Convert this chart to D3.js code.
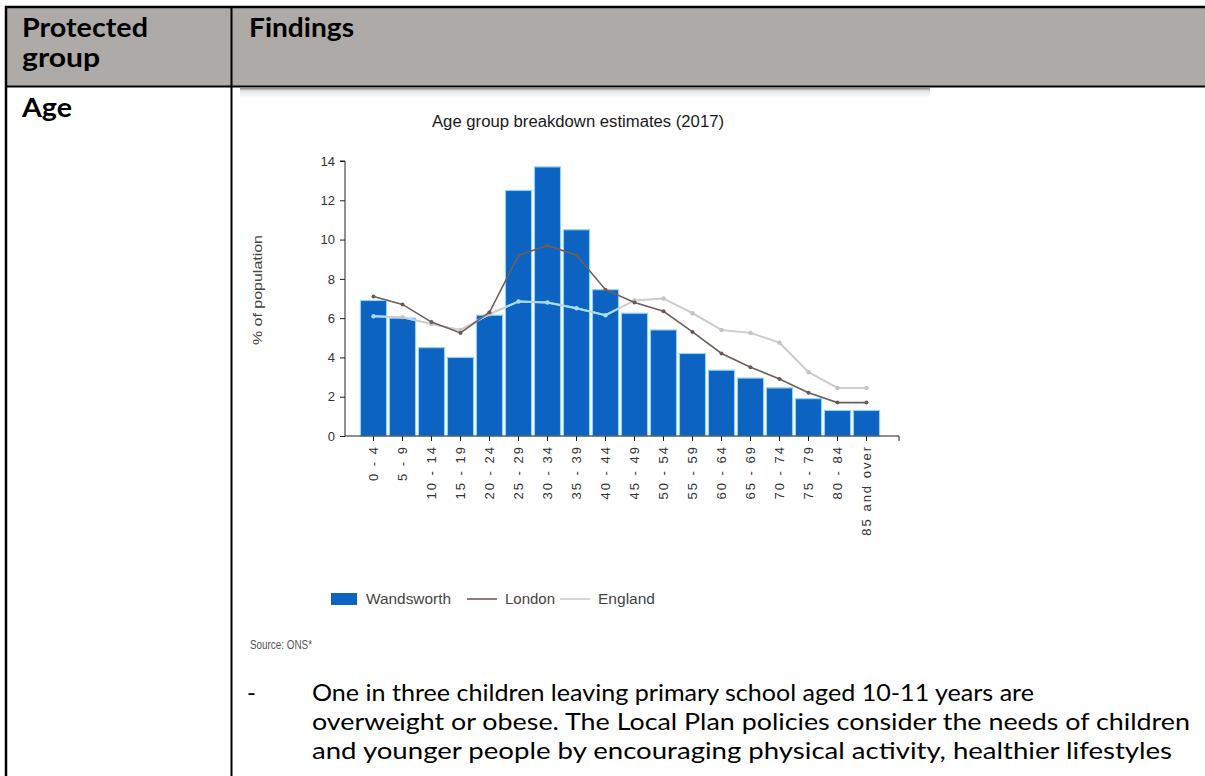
<!DOCTYPE html>
<html lang="en">
<head>
<meta charset="utf-8">
<title>Age group breakdown estimates (2017)</title>
<script src="https://d3js.org/d3.v7.min.js"></script>
<style>
  body { margin: 0; background: #fff; }
  .doc { font-family: Lato, "Open Sans", sans-serif; fill: #000; }
  .chart text { font-family: "Liberation Sans Narrow", "Liberation Sans", Arial, sans-serif; }
  .axis text { fill: #333; font-size: 13px; }
  .axis path, .axis line { stroke: #222; }
</style>
</head>
<body>
<script>
// chart data
var ages = ["0 - 4", "5 - 9", "10 - 14", "15 - 19", "20 - 24", "25 - 29", "30 - 34", "35 - 39",
            "40 - 44", "45 - 49", "50 - 54", "55 - 59", "60 - 64", "65 - 69", "70 - 74",
            "75 - 79", "80 - 84", "85 and over"];
var wandsworth = [6.9, 6.0, 4.5, 4.0, 6.15, 12.5, 13.7, 10.5, 7.45, 6.25, 5.4, 4.2, 3.35, 2.95, 2.45, 1.9, 1.3, 1.3];
var london     = [7.1, 6.7, 5.8, 5.25, 6.3, 9.2, 9.7, 9.2, 7.45, 6.8, 6.35, 5.3, 4.2, 3.5, 2.9, 2.2, 1.7, 1.7];
var england    = [6.1, 6.05, 5.7, 5.4, 6.2, 6.85, 6.8, 6.5, 6.15, 6.9, 7.0, 6.25, 5.4, 5.25, 4.75, 3.25, 2.45, 2.45];
var yTicks = [0, 2, 4, 6, 8, 10, 12, 14];
var legendItems = ["Wandsworth", "London", "England"];

var width = 1205, height = 776;

var svg = d3.select("body").append("svg")
    .attr("width", width)
    .attr("height", height);

var defs = svg.append("defs");
var grad = defs.append("linearGradient").attr("id", "shadow")
    .attr("x1", 0).attr("y1", 0).attr("x2", 0).attr("y2", 1);
grad.append("stop").attr("offset", 0).attr("stop-color", "#8a8a8a");
grad.append("stop").attr("offset", 0.3).attr("stop-color", "#e4e4e4");
grad.append("stop").attr("offset", 1).attr("stop-color", "#fff");

// ---- document table ----
var doc = svg.append("g").attr("class", "doc");
doc.append("rect").attr("x", 6).attr("y", 7).attr("width", width).attr("height", 79).attr("fill", "#aeaaa8");
doc.append("line").attr("x1", 5).attr("x2", width).attr("y1", 7).attr("y2", 7).attr("stroke", "#000").attr("stroke-width", 2.5);
doc.append("line").attr("x1", 5).attr("x2", width).attr("y1", 86.5).attr("y2", 86.5).attr("stroke", "#000").attr("stroke-width", 2);
doc.append("line").attr("x1", 6).attr("x2", 6).attr("y1", 6).attr("y2", height).attr("stroke", "#000").attr("stroke-width", 2.5);
doc.append("line").attr("x1", 231.5).attr("x2", 231.5).attr("y1", 6).attr("y2", height).attr("stroke", "#000").attr("stroke-width", 2);

doc.append("text").attr("x", 22).attr("y", 37).attr("font-size", 26).attr("font-weight", 700)
   .attr("textLength", 126).attr("lengthAdjust", "spacingAndGlyphs").text("Protected");
doc.append("text").attr("x", 22).attr("y", 67).attr("font-size", 26).attr("font-weight", 700)
   .attr("textLength", 78).attr("lengthAdjust", "spacingAndGlyphs").text("group");
doc.append("text").attr("x", 249).attr("y", 37).attr("font-size", 26).attr("font-weight", 700)
   .attr("textLength", 105).attr("lengthAdjust", "spacingAndGlyphs").text("Findings");
doc.append("text").attr("x", 22).attr("y", 117).attr("font-size", 26).attr("font-weight", 700)
   .attr("textLength", 50).attr("lengthAdjust", "spacingAndGlyphs").text("Age");

// body paragraph
var bodyLines = [
  {t: "One in three children leaving primary school aged 10-11 years are", w: 722},
  {t: "overweight or obese. The Local Plan policies consider the needs of children", w: 878},
  {t: "and younger people by encouraging physical activity, healthier lifestyles", w: 860}
];
doc.append("text").attr("x", 247).attr("y", 701).attr("font-size", 24).text("-");
doc.selectAll("text.bl").data(bodyLines).join("text")
   .attr("class", "bl")
   .attr("x", 312).attr("y", (d, i) => 701 + i * 29)
   .attr("font-size", 24)
   .attr("textLength", d => d.w).attr("lengthAdjust", "spacingAndGlyphs")
   .text(d => d.t);

// ---- chart image ----
var chart = svg.append("g").attr("class", "chart");
chart.append("rect").attr("x", 240).attr("y", 88).attr("width", 690).attr("height", 10).attr("fill", "url(#shadow)");

chart.append("text").attr("x", 578).attr("y", 127).attr("text-anchor", "middle")
   .attr("font-size", 16).attr("fill", "#1a1a1a")
   .attr("textLength", 292).attr("lengthAdjust", "spacingAndGlyphs")
   .text("Age group breakdown estimates (2017)");

var x = d3.scaleBand().domain(ages).range([359, 881]).paddingInner(0.1).paddingOuter(0.05);
var y = d3.scaleLinear().domain([0, 14]).range([436, 161]);
var axisX = 345;

// clip path of bars, used to tint the England line where it crosses the bars
defs.append("clipPath").attr("id", "barclip")
  .selectAll("rect").data(wandsworth).join("rect")
    .attr("x", (d, i) => x(ages[i]))
    .attr("y", d => y(d))
    .attr("width", x.bandwidth())
    .attr("height", d => y(0) - y(d));

chart.append("g").selectAll("rect").data(wandsworth).join("rect")
    .attr("x", (d, i) => x(ages[i]))
    .attr("y", d => y(d))
    .attr("width", x.bandwidth())
    .attr("height", d => y(0) - y(d))
    .attr("fill", "#0c63c2")
    .attr("stroke", "#92d2f5")
    .attr("stroke-width", 1.2);

var line = d3.line()
    .x((d, i) => x(ages[i]) + x.bandwidth() / 2)
    .y(d => y(d));

// England line
chart.append("path").datum(england).attr("d", line)
    .attr("fill", "none").attr("stroke", "#cdcdcd").attr("stroke-width", 2);
chart.append("path").datum(england).attr("d", line).attr("clip-path", "url(#barclip)")
    .attr("fill", "none").attr("stroke", "#a8dcf7").attr("stroke-width", 2);
chart.append("g").selectAll("circle").data(england).join("circle")
    .attr("cx", (d, i) => x(ages[i]) + x.bandwidth() / 2)
    .attr("cy", d => y(d)).attr("r", 2.2)
    .attr("fill", (d, i) => d < wandsworth[i] ? "#a8dcf7" : "#c4c4c4");

// London line
chart.append("path").datum(london).attr("d", line)
    .attr("fill", "none").attr("stroke", "#6e605c").attr("stroke-width", 1.6);
chart.append("g").selectAll("circle").data(london).join("circle")
    .attr("cx", (d, i) => x(ages[i]) + x.bandwidth() / 2)
    .attr("cy", d => y(d)).attr("r", 2)
    .attr("fill", "#6a5a56");

// axes
chart.append("g").attr("class", "axis")
    .attr("transform", `translate(${axisX},0)`)
    .call(d3.axisLeft(y).tickValues(yTicks).tickSize(5).tickSizeOuter(0).tickPadding(5))
    .call(g => g.select(".domain").attr("d", `M0,${y(0)}V${y(14)}H-5`));

chart.append("g").attr("class", "axis")
    .attr("transform", `translate(0,${y(0)})`)
    .call(d3.axisBottom(x).tickSize(5).tickSizeOuter(0))
    .call(g => g.select(".domain").attr("d", `M${axisX},0H${x.range()[1] + 18}V5`))
    .call(g => g.selectAll(".tick text")
        .attr("transform", "rotate(-90)")
        .attr("x", -9).attr("y", 0).attr("dy", "0.35em")
        .attr("text-anchor", "end")
        .attr("font-size", 13)
        .attr("letter-spacing", 2));

chart.append("text")
    .attr("transform", `translate(262,290) rotate(-90)`)
    .attr("text-anchor", "middle").attr("font-size", 13).attr("fill", "#444")
    .attr("textLength", 110).attr("lengthAdjust", "spacingAndGlyphs")
    .text("% of population");

// legend
var legend = chart.append("g").attr("transform", "translate(331,599)");
var legendX = [0, 136, 229];
var legendW = [85, 50, 57];
legend.selectAll("g").data(legendItems).join("g")
    .attr("transform", (d, i) => `translate(${legendX[i]},0)`)
    .each(function(d, i) {
      var g = d3.select(this);
      if (i === 0) {
        g.append("rect").attr("x", 0).attr("y", -6).attr("width", 26).attr("height", 12).attr("fill", "#0c63c2");
      } else {
        g.append("line").attr("x1", 0).attr("x2", 30).attr("y1", 0).attr("y2", 0)
          .attr("stroke", i === 1 ? "#6e605c" : "#cdcdcd").attr("stroke-width", 1.6);
      }
      g.append("text").attr("x", i === 0 ? 35 : 38).attr("y", 0).attr("dy", "0.35em")
        .attr("font-size", 14).attr("fill", "#444")
        .attr("textLength", legendW[i]).attr("lengthAdjust", "spacingAndGlyphs")
        .text(d);
    });

chart.append("text").attr("x", 250).attr("y", 649)
    .attr("font-size", 12).attr("fill", "#555")
    .attr("textLength", 62).attr("lengthAdjust", "spacingAndGlyphs")
    .text("Source: ONS*");
</script>
</body>
</html>
